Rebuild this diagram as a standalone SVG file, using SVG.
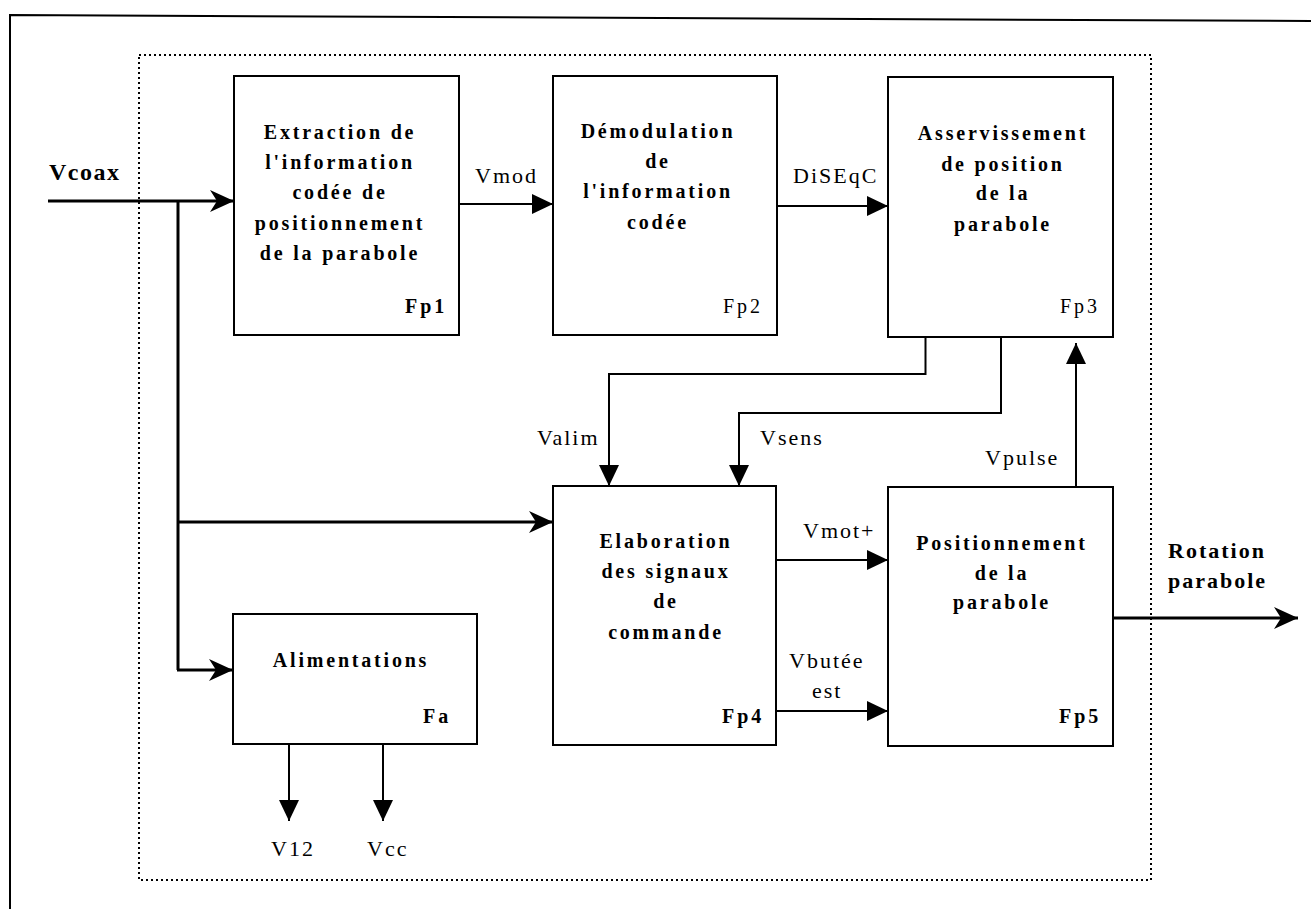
<svg xmlns="http://www.w3.org/2000/svg" width="1311" height="909" viewBox="0 0 1311 909">
<defs>
<style>
.box{fill:#fff;stroke:#000;stroke-width:2}
.bt{font-family:"Liberation Serif","Times New Roman",serif;font-weight:bold;font-size:20px;letter-spacing:2.8px;text-anchor:middle;fill:#000}
.fl{font-family:"Liberation Serif","Times New Roman",serif;font-size:20px;letter-spacing:3px;fill:#000}
.flb{font-weight:bold}
.lb{font-family:"Liberation Serif","Times New Roman",serif;font-size:22px;letter-spacing:2px;fill:#000}
.lbb{font-family:"Liberation Serif","Times New Roman",serif;font-size:22px;font-weight:bold;letter-spacing:2px;fill:#000}
.thin{fill:none;stroke:#000;stroke-width:2;marker-end:url(#tri)}
.thick{fill:none;stroke:#000;stroke-width:3}
.thickA{fill:none;stroke:#000;stroke-width:3;marker-end:url(#barb)}
</style>
<marker id="tri" viewBox="0 0 21 20" refX="21" refY="10" markerWidth="21" markerHeight="20" markerUnits="userSpaceOnUse" orient="auto">
<path d="M0,0 L21,10 L0,20 Z" fill="#000"/>
</marker>
<marker id="barb" viewBox="0 0 24 22" refX="24" refY="11" markerWidth="24" markerHeight="22" markerUnits="userSpaceOnUse" orient="auto">
<path d="M0,0 L24,11 L0,22 L7,11 Z" fill="#000"/>
</marker>
</defs>
<rect width="1311" height="909" fill="#fff"/>
<g id="frame">
<path d="M10,909 L10,15 L1311,21" fill="none" stroke="#000" stroke-width="2"/>
<rect x="139" y="55" width="1012" height="825" fill="none" stroke="#000" stroke-width="2" stroke-dasharray="2 3"/>
</g>
<g id="connectors">
<path class="thickA" d="M48,201 H234"/>
<path class="thick" d="M178,201 V670"/>
<path class="thickA" d="M178,522 H553"/>
<path class="thickA" d="M177,670 H233"/>
<path class="thin" d="M459,204 H553"/>
<path class="thin" d="M777,206 H888"/>
<path class="thin" d="M925.5,337 V374 H609 V486"/>
<path class="thin" d="M1001,337 V413 H739 V486"/>
<path class="thin" d="M1076,487 V343"/>
<path class="thin" d="M776,560 H888"/>
<path class="thin" d="M776,711 H888"/>
<path class="thin" d="M289,744 V821"/>
<path class="thin" d="M383,744 V821"/>
<path class="thickA" d="M1113,618 H1298"/>
</g>
<g id="labels">
<text class="lbb" x="49" y="180" style="font-size:24px;letter-spacing:1.5px">Vcoax</text>
<text class="lb" x="475" y="183">Vmod</text>
<text class="lb" x="793" y="183">DiSEqC</text>
<text class="lb" x="537" y="445">Valim</text>
<text class="lb" x="760" y="445">Vsens</text>
<text class="lb" x="985" y="465">Vpulse</text>
<text class="lb" x="803" y="538">Vmot+</text>
<text class="lb" x="789" y="668">Vbutée</text>
<text class="lb" x="812" y="698">est</text>
<text class="lb" x="271" y="856">V12</text>
<text class="lb" x="367" y="856">Vcc</text>
<text class="lbb" x="1168" y="558">Rotation</text>
<text class="lbb" x="1168" y="588">parabole</text>
</g>
<g id="fp1">
<rect class="box" x="234" y="76" width="225" height="259"/>
<text class="bt" x="340" y="139">Extraction de</text>
<text class="bt" x="340" y="169">l'information</text>
<text class="bt" x="340" y="199">codée de</text>
<text class="bt" x="340" y="230">positionnement</text>
<text class="bt" x="340" y="260">de la parabole</text>
<text class="fl flb" x="405" y="313">Fp1</text>
</g>
<g id="fp2">
<rect class="box" x="553" y="76" width="224" height="259"/>
<text class="bt" x="658" y="138">Démodulation</text>
<text class="bt" x="658" y="168">de</text>
<text class="bt" x="658" y="198">l'information</text>
<text class="bt" x="658" y="229">codée</text>
<text class="fl" x="723" y="313">Fp2</text>
</g>
<g id="fp3">
<rect class="box" x="888" y="77" width="225" height="260"/>
<text class="bt" x="1003" y="140">Asservissement</text>
<text class="bt" x="1003" y="171">de position</text>
<text class="bt" x="1003" y="200">de la</text>
<text class="bt" x="1003" y="231">parabole</text>
<text class="fl" x="1060" y="313">Fp3</text>
</g>
<g id="fp4">
<rect class="box" x="553" y="486" width="223" height="259"/>
<text class="bt" x="666" y="548">Elaboration</text>
<text class="bt" x="666" y="578">des signaux</text>
<text class="bt" x="666" y="608">de</text>
<text class="bt" x="666" y="639">commande</text>
<text class="fl flb" x="722" y="723">Fp4</text>
</g>
<g id="fp5">
<rect class="box" x="888" y="487" width="225" height="259"/>
<text class="bt" x="1002" y="550">Positionnement</text>
<text class="bt" x="1002" y="580">de la</text>
<text class="bt" x="1002" y="609">parabole</text>
<text class="fl flb" x="1059" y="723">Fp5</text>
</g>
<g id="fa">
<rect class="box" x="233" y="614" width="244" height="130"/>
<text class="bt" x="351" y="667">Alimentations</text>
<text class="fl flb" x="423" y="723">Fa</text>
</g>
</svg>
